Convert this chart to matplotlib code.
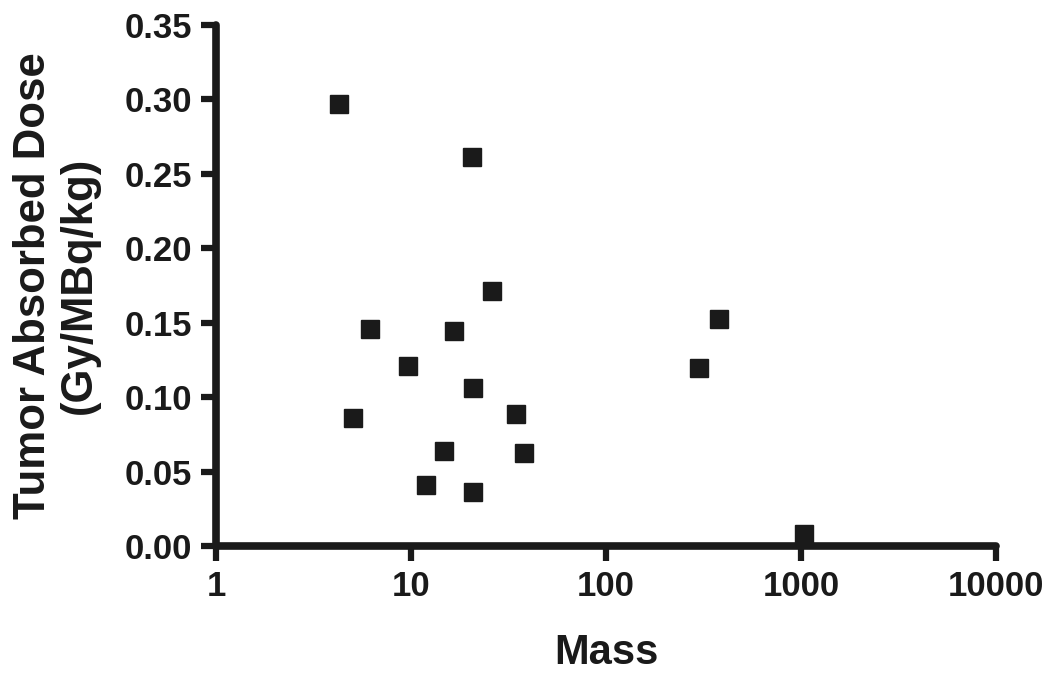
import matplotlib
matplotlib.use("Agg")
import matplotlib.pyplot as plt

mass = [4.26, 20.5, 25.9, 6.19, 16.7, 9.70, 20.9, 5.07, 34.5, 14.7, 37.9, 12.0, 20.7, 378, 301, 1030]
dose = [0.297, 0.261, 0.1715, 0.1456, 0.1444, 0.1209, 0.1061, 0.0858, 0.0889, 0.0640, 0.0627, 0.041, 0.0363, 0.1523, 0.1196, 0.0080]

x_ticks = [1, 10, 100, 1000, 10000]
x_ticklabels = ["1", "10", "100", "1000", "10000"]
y_ticks = [0.00, 0.05, 0.10, 0.15, 0.20, 0.25, 0.30, 0.35]
y_ticklabels = ["0.00", "0.05", "0.10", "0.15", "0.20", "0.25", "0.30", "0.35"]

ink = "#1a1a1a"
plt.rcParams['font.family'] = ['Liberation Sans', 'DejaVu Sans']
plt.rcParams['font.weight'] = 'bold'

fig = plt.figure(figsize=(10.5, 6.74), dpi=100)
ax = fig.add_axes([216/1050, 1-546/674, (996-216)/1050, (546-25)/674])

ax.plot(mass, dose, linestyle='none', marker='s', markersize=13.5,
        color=ink, markeredgecolor=ink, clip_on=False, zorder=5)

ax.set_xscale('log')
ax.set_xlim(1, 10000)
ax.set_ylim(0, 0.35)
ax.set_xticks(x_ticks)
ax.set_xticklabels(x_ticklabels)
ax.set_yticks(y_ticks)
ax.set_yticklabels(y_ticklabels)
ax.xaxis.set_minor_locator(matplotlib.ticker.NullLocator())

for s in ['top', 'right']:
    ax.spines[s].set_visible(False)
for s in ['left', 'bottom']:
    ax.spines[s].set_linewidth(5.5)
    ax.spines[s].set_color(ink)
    ax.spines[s].set_capstyle('round')

ax.tick_params(axis='both', which='major', length=11, width=4.5, color=ink,
               labelsize=25, labelcolor=ink, pad=6)
for lab in ax.get_xticklabels() + ax.get_yticklabels():
    lab.set_fontweight('bold')

ax.set_xlabel("Mass", fontsize=30, fontweight='bold', color=ink, labelpad=22)
ax.set_ylabel("Tumor Absorbed Dose\n(Gy/MBq/kg)", fontsize=31.5, fontweight='bold',
              color=ink, labelpad=18, linespacing=1.15)

fig.savefig("out.png", dpi=100, facecolor='white')
